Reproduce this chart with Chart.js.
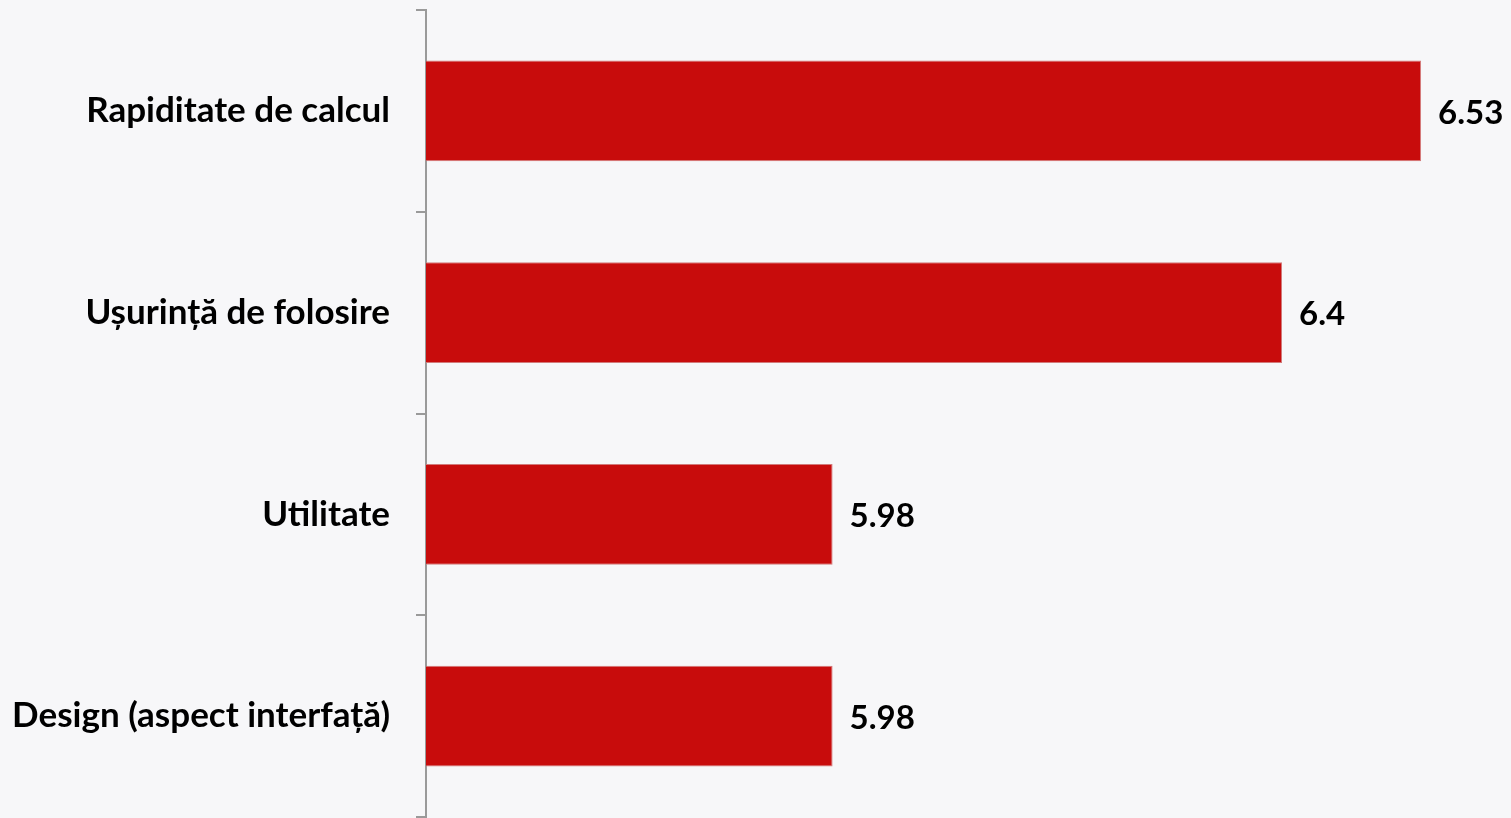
<!DOCTYPE html>
<html>
<head>
<meta charset="utf-8">
<script src="https://cdn.jsdelivr.net/npm/chart.js@4"></script>
<style>
  html, body { margin: 0; padding: 0; background: #f7f7f9; }
  #wrap { width: 1511px; height: 818px; }
</style>
</head>
<body>
<div id="wrap"><canvas id="scoreChart"></canvas></div>
<script>
const categories = ["Rapiditate de calcul", "Ușurință de folosire", "Utilitate", "Design (aspect interfață)"];
const scores = [6.53, 6.4, 5.98, 5.98];
const axisMin = 5.6;
const axisMax = 6.6;

const FONT = "Lato, 'Open Sans', sans-serif";

// value labels at the end of each bar
const valueLabels = {
  id: "valueLabels",
  afterDatasetsDraw(chart) {
    const ctx = chart.ctx;
    const meta = chart.getDatasetMeta(0);
    ctx.save();
    ctx.font = "bold 33px " + FONT;
    ctx.fillStyle = "#000";
    ctx.textAlign = "left";
    ctx.textBaseline = "middle";
    meta.data.forEach((bar, i) => {
      ctx.fillText(String(scores[i]), bar.x + 17, bar.y + 2);
    });
    ctx.restore();
  },
};

const el = document.getElementById("scoreChart");
const chart = new Chart(el, {
  type: "bar",
  data: {
    labels: categories,
    datasets: [
      {
        data: scores,
        backgroundColor: "#c80c0c",
        borderColor: "#d27a7a",
        borderWidth: 1,
        barPercentage: 0.5,
        categoryPercentage: 1,
      },
    ],
  },
  options: {
    indexAxis: "y",
    responsive: true,
    maintainAspectRatio: false,
    animation: false,
    layout: { padding: { top: 10, right: 15, bottom: 1, left: 0 } },
    plugins: {
      legend: { display: false },
      tooltip: { enabled: false },
    },
    scales: {
      x: {
        display: false,
        min: axisMin,
        max: axisMax,
      },
      y: {
        afterFit: (scale) => {
          scale.width = 426;
          scale.paddingTop = 0;
          scale.paddingBottom = 0;
        },
        border: { color: "#9a9a9a", width: 2 },
        grid: {
          drawOnChartArea: false,
          tickLength: 10,
          tickColor: "#9a9a9a",
          lineWidth: 2,
        },
        ticks: {
          color: "#000",
          padding: 26,
          font: { family: FONT, size: 35, weight: "bold" },
        },
      },
    },
  },
  plugins: [valueLabels],
});
</script>
</body>
</html>
